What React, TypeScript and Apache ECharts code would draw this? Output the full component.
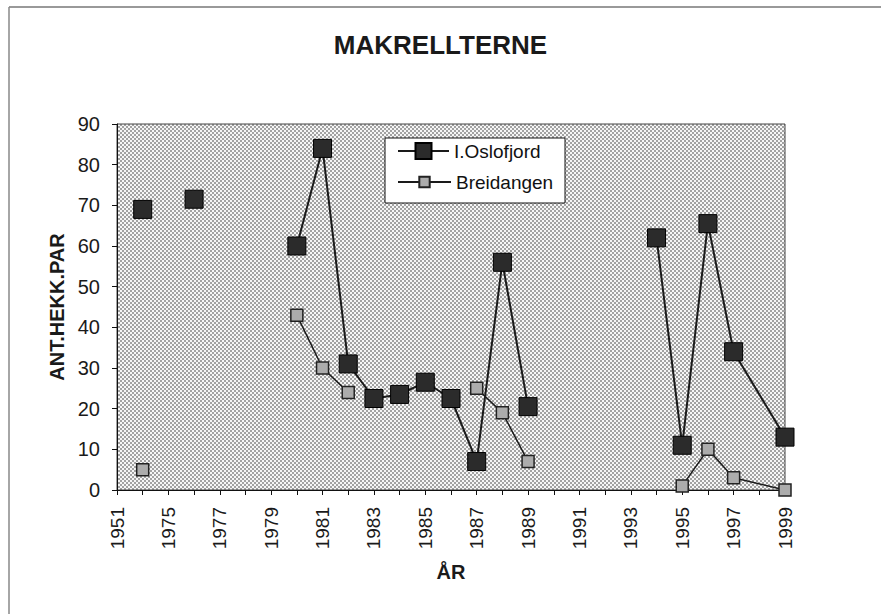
import React, { useEffect, useRef } from "react";
import * as echarts from "echarts";

const categories = [
  "1951", "1974", "1975", "1976", "1977", "1978", "1979", "1980", "1981",
  "1982", "1983", "1984", "1985", "1986", "1987", "1988", "1989", "1990",
  "1991", "1992", "1993", "1994", "1995", "1996", "1997", "1998", "1999",
];

const oslofjord = [
  null, 69, null, 71.5, null, null, null, 60, 84, 31, 22.5, 23.5, 26.5, 22.5,
  7, 56, 20.5, null, null, null, null, 62, 11, 65.5, 34, null, 13,
];

const breidangen = [
  null, 5, null, null, null, null, null, 43, 30, 24, null, null, null, null,
  25, 19, 7, null, null, null, null, null, 1, 10, 3, null, 0,
];

const yTicks = { min: 0, max: 90, interval: 10 };
const bridgeFromYear = "1997";

const FONT = "'Liberation Sans', Arial, sans-serif";

function makeDotPattern(dark: string, light: string): string | null {
  try {
    const c = document.createElement("canvas");
    c.width = 4;
    c.height = 4;
    const ctx = c.getContext("2d");
    if (!ctx) return null;
    ctx.fillStyle = light;
    ctx.fillRect(0, 0, 4, 4);
    ctx.fillStyle = dark;
    ctx.fillRect(0, 0, 2, 2);
    ctx.fillRect(2, 2, 2, 2);
    return c.toDataURL("image/png");
  } catch (e) {
    return null;
  }
}

export default function App() {
  const ref = useRef<HTMLDivElement>(null);

  useEffect(() => {
    if (!ref.current) return;
    const chart = echarts.init(ref.current, undefined, { renderer: "svg" });
    const bridgeIdx = categories.indexOf(bridgeFromYear);
    const bridge = (arr: (number | null)[]) =>
      arr.map((v, i) => (i >= bridgeIdx ? v : null));

    const dots = makeDotPattern("#a2a2a2", "#f6f6f6");
    const plotFill: any = dots ? { image: dots, repeat: "repeat" } : "#cccccc";

    chart.setOption({
      animation: false,
      backgroundColor: "#ffffff",
      textStyle: { fontFamily: FONT },
      title: {
        text: "MAKRELLTERNE",
        left: "center",
        top: 27,
        textStyle: { fontFamily: FONT, fontSize: 26, fontWeight: "bold", color: "#1a1a1a" },
      },
      graphic: [
        { type: "line", shape: { x1: 9, y1: 7, x2: 881, y2: 7 }, style: { stroke: "#777", lineWidth: 1.5 } },
        { type: "line", shape: { x1: 9, y1: 7, x2: 9, y2: 614 }, style: { stroke: "#888", lineWidth: 1.5 } },
        {
          type: "rect",
          shape: { x: 385, y: 138, width: 180, height: 65 },
          style: { fill: "#ffffff", stroke: "#111", lineWidth: 1 },
          z: 5,
        },
      ],
      legend: [
        {
          data: ["I.Oslofjord"],
          left: 397,
          top: 141,
          padding: 0,
          itemWidth: 51,
          itemHeight: 20,
          itemGap: 4,
          z: 10,
          textStyle: { fontFamily: FONT, fontSize: 19, color: "#111", lineHeight: 20 },
        },
        {
          data: ["Breidangen"],
          left: 397,
          top: 172,
          padding: 0,
          itemWidth: 53,
          itemHeight: 13,
          itemGap: 4,
          z: 10,
          textStyle: { fontFamily: FONT, fontSize: 19, color: "#111", lineHeight: 20 },
        },
      ],
      grid: {
        left: 117,
        right: 96,
        top: 124,
        bottom: 124,
        show: true,
        backgroundColor: plotFill,
        borderColor: "#444",
        borderWidth: 1,
      },
      xAxis: {
        type: "category",
        data: categories,
        boundaryGap: false,
        name: "ÅR",
        nameLocation: "middle",
        nameGap: 72,
        nameTextStyle: { fontFamily: FONT, fontSize: 20, fontWeight: "bold", color: "#1a1a1a" },
        axisLine: { lineStyle: { color: "#111", width: 1 } },
        axisTick: { show: true, interval: 0, length: 5, lineStyle: { color: "#111" } },
        axisLabel: {
          interval: 1,
          rotate: 90,
          margin: 17,
          fontFamily: FONT,
          fontSize: 19,
          color: "#1a1a1a",
        },
        splitLine: { show: false },
      },
      yAxis: {
        type: "value",
        min: yTicks.min,
        max: yTicks.max,
        interval: yTicks.interval,
        name: "ANT.HEKK.PAR",
        nameLocation: "middle",
        nameGap: 44,
        nameTextStyle: { fontFamily: FONT, fontSize: 20, fontWeight: "bold", color: "#1a1a1a" },
        axisLine: { show: true, lineStyle: { color: "#111", width: 1 } },
        axisTick: { show: true, length: 5, lineStyle: { color: "#111" } },
        axisLabel: { margin: 17, fontFamily: FONT, fontSize: 20, color: "#1a1a1a" },
        splitLine: { show: false },
      },
      series: [
        {
          name: "Breidangen",
          type: "line",
          data: breidangen,
          connectNulls: false,
          showAllSymbol: true,
          symbol: "rect",
          symbolSize: 12,
          itemStyle: { color: "#acacac", borderColor: "#222", borderWidth: 1.5 },
          lineStyle: { color: "#1a1a1a", width: 1.5 },
          z: 3,
        },
        {
          name: "I.Oslofjord",
          type: "line",
          data: oslofjord,
          connectNulls: false,
          showAllSymbol: true,
          symbol: "rect",
          symbolSize: 18,
          itemStyle: { color: "#2b2b2b", borderColor: "#000", borderWidth: 1 },
          lineStyle: { color: "#1a1a1a", width: 2 },
          z: 4,
        },
        {
          name: "bridge-b",
          type: "line",
          data: bridge(breidangen),
          connectNulls: true,
          symbol: "none",
          silent: true,
          lineStyle: { color: "#1a1a1a", width: 1.5 },
          z: 2,
        },
        {
          name: "bridge-o",
          type: "line",
          data: bridge(oslofjord),
          connectNulls: true,
          symbol: "none",
          silent: true,
          lineStyle: { color: "#1a1a1a", width: 2 },
          z: 2,
        },
      ],
    });

    return () => chart.dispose();
  }, []);

  return (
    <div
      ref={ref}
      style={{ position: "fixed", left: 0, top: 0, width: 881, height: 614 }}
    />
  );
}
